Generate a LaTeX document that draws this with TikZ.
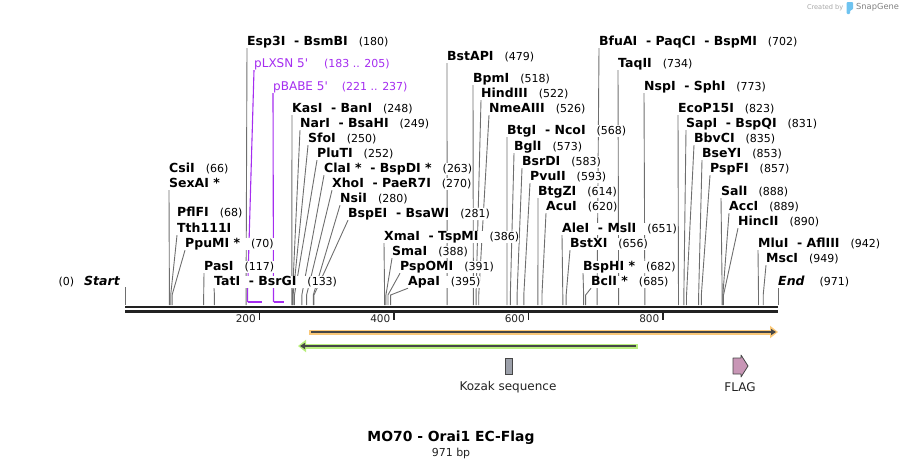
\documentclass[tikz,border=0pt]{standalone}
\usepackage{fontspec}
\setmainfont{DejaVu Sans}[Ligatures=TeXOff]
\usepackage{tikz}
\usetikzlibrary{arrows.meta}
\usetikzlibrary{calc}
\usetikzlibrary{positioning}
\definecolor{cutgray}{RGB}{110,110,110}
\definecolor{mpurple}{RGB}{165,45,240}
\definecolor{bbone}{RGB}{34,34,34}
\definecolor{orfill}{RGB}{250,200,120}
\definecolor{grfill}{RGB}{185,238,125}
\definecolor{darkline}{RGB}{70,70,70}
\definecolor{kozakfill}{RGB}{156,160,170}
\definecolor{flagfill}{RGB}{200,150,182}
\definecolor{sgblue}{RGB}{110,195,240}
\pgfdeclarelayer{background}
\pgfsetlayers{background,main}
\newcommand{\enzsep}{\ \ -\ }
\newcommand{\bpnum}[1]{\hspace{11pt}{\fontsize{11}{13}\selectfont\mdseries\upshape(#1)}}
\tikzset{enz/.style = {anchor=west, inner sep=0pt, fill=white,
                       text height=9.5pt, text depth=2.5pt,
                       font=\fontsize{12.5}{14}\selectfont\bfseries},
         cut/.style = {cutgray, line width=0.9pt},
         feat/.style = {mpurple, line width=1.1pt},
         featlbl/.style = {anchor=west, inner sep=0pt, fill=white, text=mpurple,
                           text height=9.5pt, text depth=2.5pt,
                           font=\fontsize{12}{14}\selectfont}}

\begin{document}
\begin{tikzpicture}[x=1pt, y=-1pt]
    \useasboundingbox (0, 0) rectangle (904, 469);

    % backbone
    \coordinate (c0) at (125, 305);
    \coordinate (cend) at (778, 305);
    \draw [bbone, line width=2.6pt] (125, 307) -- (778, 307);
    \draw [bbone, line width=2.6pt] (125, 311.3) -- (778, 311.3);

    \foreach \t in {200, 400, 600, 800} {
      \pgfmathsetmacro{\tx}{125+\t*0.6725}
      \coordinate (tk\t) at (\tx, 312.5);
      \draw [bbone, line width=1.6pt] (tk\t) -- ++(0, 7.5);
      \node [anchor=east, inner sep=0pt, font=\fontsize{10.5}{12}\selectfont,
             text=bbone] (tl\t) at (\tx-3.5, 318.5) {\t};
    }

    % start and end
    \node [enz, anchor=east] (startlbl) at (120, 282)
          {{\fontsize{11}{13}\selectfont\mdseries(0)}\hspace{10pt}\itshape Start};
    \node [enz] (endlbl) at (778, 282) {{\itshape End}\hspace{4pt}\bpnum{971}};
    \begin{pgfonlayer}{background}
      \draw [cut] (c0) -- ++(0, -18);
      \draw [cut] (cend) -- (endlbl.south west);
    \end{pgfonlayer}

    % stacked names
    \coordinate (c66) at (169.4, 305);
    \coordinate (c68) at (170.7, 305);
    \node [enz] (csi) at (169, 169) {CsiI\bpnum{66}};
    \node [enz] (sexai) at (169, 184) {SexAI *};
    \node [enz] (pflfi) at (177, 213) {PflFI\bpnum{68}};
    \node [enz] (tth) at (177, 229) {Tth111I};
    \begin{pgfonlayer}{background}
      \draw [cut] (c66) -- ++(0, -10) -- (sexai.south west);
      \draw [cut] (c68) -- ++(0, -10) -- (tth.south west);
    \end{pgfonlayer}

    % cut sites
    \foreach \bp/\lx/\ly/\nm [count=\i] in {
        70/185/244/PpuMI *, 117/204/267/PasI, 133/214/282/TatI\enzsep BsrGI,
        180/247/42/Esp3I\enzsep BsmBI, 248/292/109/KasI\enzsep BanI,
        249/300/124/NarI\enzsep BsaHI, 250/308/139/SfoI, 252/317/154/PluTI,
        263/324/169/ClaI *\enzsep BspDI *, 270/332/184/XhoI\enzsep PaeR7I,
        280/340/199/NsiI, 281/348/214/BspEI\enzsep BsaWI,
        386/384/237/XmaI\enzsep TspMI, 388/392/252/SmaI, 391/400/267/PspOMI,
        395/408/282/ApaI, 479/447/57/BstAPI, 518/473/79/BpmI,
        522/481/94/HindIII, 526/489/109/NmeAIII, 568/507/131/BtgI\enzsep NcoI,
        573/514/147/BglI, 583/522/162/BsrDI, 593/530/177/PvuII,
        614/538/192/BtgZI, 620/546/207/AcuI, 651/562/229/AleI\enzsep MslI,
        656/570/244/BstXI, 682/583/267/BspHI *, 685/591/282/BclI *,
        702/599/42/BfuAI\enzsep PaqCI\enzsep BspMI, 734/618/64/TaqII,
        773/644/87/NspI\enzsep SphI, 823/678/109/EcoP15I,
        831/686/124/SapI\enzsep BspQI, 835/694/139/BbvCI, 853/702/154/BseYI,
        857/710/169/PspFI, 888/721/192/SalI, 889/729/207/AccI,
        890/738/222/HincII, 942/758/244/MluI\enzsep AflIII, 949/766/259/MscI} {
      \pgfmathsetmacro{\sx}{125+\bp*0.6725}
      \coordinate (c\i) at (\sx, 305);
      \node [enz] (e\i) at (\lx, \ly) {\nm\bpnum{\bp}};
      \begin{pgfonlayer}{background}
        \draw [cut] (c\i) -- ++(0, -10) -- (e\i.south west);
      \end{pgfonlayer}
    }

    % primer features
    \node [featlbl] (plxsn) at (254, 64)
          {pLXSN 5'\hspace{16pt}{\fontsize{11}{13}\selectfont(183 .. 205)}};
    \node [featlbl] (pbabe) at (273, 87)
          {pBABE 5'\hspace{14pt}{\fontsize{11}{13}\selectfont(221 .. 237)}};
    \coordinate (lx1) at (247.5, 302);
    \coordinate (lx2) at (262, 302);
    \coordinate (bb1) at (273.5, 302);
    \coordinate (bb2) at (284, 302);
    \begin{pgfonlayer}{background}
      \draw [feat] (lx1) -- ++(0, -7) -- (plxsn.south west);
      \draw [feat] (bb1) -- (pbabe.south west);
    \end{pgfonlayer}
    \draw [mpurple, line width=2pt] (lx1) -- (lx2);
    \draw [mpurple, line width=2pt] (bb1) -- (bb2);

    % orf arrows
    \coordinate (or1) at (309, 332);
    \coordinate (or2) at (778, 332);
    \coordinate (gr1) at (638, 346);
    \coordinate (gr2) at (298, 346);
    \draw [orfill, line width=5pt, -{Triangle[length=8pt, width=12pt]}] (or1) -- (or2);
    \draw [darkline, line width=1.8pt, -{Triangle[length=5pt, width=6pt]}]
          ($(or1)+(2,0)$) -- ($(or2)+(-2,0)$);
    \draw [grfill, line width=5pt, -{Triangle[length=8pt, width=12pt]}] (gr1) -- (gr2);
    \draw [darkline, line width=1.8pt, -{Triangle[length=5pt, width=6pt]}]
          ($(gr1)+(-2,0)$) -- ($(gr2)+(2,0)$);

    % kozak and flag
    \node [draw=darkline, fill=kozakfill, line width=0.8pt, inner sep=0pt,
           minimum width=6.5pt, minimum height=16pt] (kozak) at (509, 366) {};
    \node [font=\fontsize{12}{14}\selectfont, text=bbone] (kozaklbl) at (508, 387) {Kozak sequence};
    \draw [draw=darkline, fill=flagfill, line width=0.8pt, line join=round]
          (733, 358) -- (741, 358) -- (741, 355) -- (748, 366) -- (741, 377)
          -- (741, 374) -- (733, 374) -- cycle;
    \node [font=\fontsize{12}{14}\selectfont, text=bbone] (flaglbl) at (740, 387) {FLAG};

    % title
    \node [font=\fontsize{13.9}{16}\selectfont\bfseries] (title) at (451, 438) {MO70 - Orai1 EC-Flag};
    \node [font=\fontsize{11}{13}\selectfont, text=bbone] (size) at (451, 453.5) {971 bp};

    % watermark
    \node [anchor=east, inner sep=0pt, text=black!35, font=\fontsize{6.6}{8}\selectfont]
          (created) at (843.5, 7.5) {Created by};
    \fill [sgblue, rounded corners=1pt] (846.5, 2) -- (853, 2) -- (853, 9.5)
          -- (850, 10.5) -- (850, 14) -- (846.5, 14) -- cycle;
    \node [anchor=west, inner sep=0pt, text=black!50, font=\fontsize{8.3}{10}\selectfont]
          (sg) at (856, 7.5) {SnapGene};
  \end{tikzpicture}
\end{document}
